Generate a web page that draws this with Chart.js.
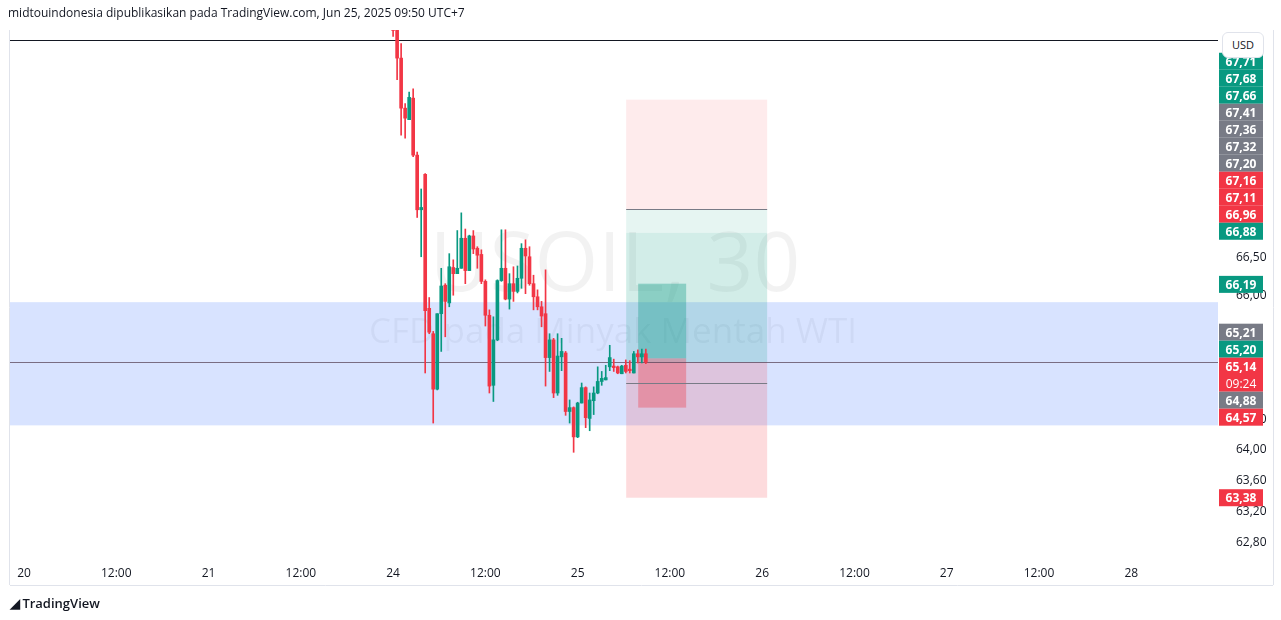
<!DOCTYPE html>
<html><head><meta charset="utf-8">
<script src="https://cdn.jsdelivr.net/npm/chart.js@4.4.1/dist/chart.umd.min.js"></script>
<style>
body{margin:0;width:1281px;height:620px;background:#fff;font-family:"Open Sans",Roboto,sans-serif;overflow:hidden;position:relative}
#hdr{position:absolute;left:8px;top:4px;font-size:12px;color:#131722}
#logo{position:absolute;left:10px;top:594px;font-size:13px;color:#131722;font-weight:600}
#wrap{position:absolute;left:0;top:0;width:1281px;height:620px}
#usd{position:absolute;left:1222px;top:32px;width:40px;height:24px;border:1px solid #e0e3eb;border-radius:6px;font-size:11px;color:#131722;text-align:center;line-height:24px;background:#fff;z-index:2}
</style></head><body>
<div id="wrap"><canvas id="c" width="1281" height="620"></canvas></div>
<div id="hdr">midtouindonesia dipublikasikan pada TradingView.com, Jun 25, 2025 09:50 UTC+7</div>
<div id="logo"><span style="font-weight:900;letter-spacing:-1px">&#9698;</span> TradingView</div>
<div id="usd">USD</div>
<script>
// 30-minute candles from Jun 24 (day index 2), 46 bars per day
const opens  = [69.58,69.50,69.09,68.44,68.29,68.57,67.83,67.12,67.58,65.84,65.51,64.79,65.77,66.14,65.91,66.37,66.29,66.36,66.75,66.33,66.78,66.62,66.54,66.19,65.75,64.84,65.43,66.20,66.36,65.96,66.16,66.06,66.23,66.62,66.51,66.16,65.99,65.86,65.77,65.20,65.43,64.74,65.21,65.26,64.50,64.55,64.17,64.61,64.81,64.41,64.64,64.74,64.89,64.91,65.08,65.09,65.08,64.99,65.10,65.03,65.00,65.25,65.21,65.25];
const highs  = [69.67,69.58,69.28,68.50,68.65,68.69,67.87,67.39,67.59,65.98,65.54,65.77,66.36,66.16,66.55,66.47,66.85,67.08,66.87,66.79,66.85,66.64,66.60,66.21,65.82,65.73,66.21,66.86,66.86,66.29,66.38,66.39,66.68,66.73,66.64,66.27,66.08,65.93,66.34,65.51,65.45,65.51,65.45,65.28,64.65,64.56,64.62,64.87,64.82,64.74,64.82,65.08,65.02,65.10,65.36,65.18,65.09,65.10,65.17,65.16,65.28,65.30,65.31,65.31];
const lows   = [69.37,68.81,68.09,68.05,68.29,67.81,67.02,66.51,65.00,65.51,64.35,64.78,65.28,65.47,65.86,66.01,66.29,66.36,66.16,66.33,66.55,66.36,66.16,65.61,64.74,64.63,65.42,66.19,65.95,65.83,65.93,66.04,66.10,66.03,66.14,65.82,65.82,65.60,64.83,65.02,64.68,64.71,65.03,64.45,64.35,63.97,64.16,64.61,64.29,64.25,64.46,64.73,64.84,64.91,65.03,65.02,64.99,64.99,65.00,65.00,65.00,65.13,65.13,65.12];
const closes = [69.45,69.09,68.44,68.31,68.58,67.83,67.12,67.15,65.81,65.53,64.79,65.77,66.13,65.93,66.38,66.29,66.36,66.75,66.33,66.78,66.61,66.53,66.19,65.75,64.83,65.43,66.20,66.36,65.96,66.16,66.06,66.23,66.62,66.52,66.16,65.99,65.86,65.74,65.20,65.43,64.74,65.22,65.28,64.50,64.55,64.17,64.61,64.81,64.42,64.65,64.74,64.89,64.93,64.94,65.20,65.07,65.00,65.09,65.02,65.01,65.25,65.21,65.25,65.14];
const dayLabels = ['20','12:00','21','12:00','24','12:00','25','12:00','26','12:00','27','12:00','28'];
const yTicks = [62.8,63.2,63.6,64.0,64.4,66.0,66.5];
const priceTags = [67.71,67.68,67.66,67.41,67.36,67.32,67.20,67.16,67.11,66.96,66.88,66.19,65.21,65.20,65.14,64.88,64.57,63.38];
const tagKinds  = ['g','g','g','n','n','n','n','r','r','r','g','g','n','g','r','n','r','r'];
const lastPrice = 65.14, prevLine = 69.32;
const zone = [64.32,65.92];
const tool = {x0:3.263,x1:4.027,top:68.55,stop:67.13,mid:66.82,entry:65.14,lower:64.87,bottom:63.38};
const mini = {x0:3.328,x1:3.588,top:66.16,mid:65.19,bottom:64.55};

const UP='#089981', DN='#f23645', NEU='#787b86';
const xs = opens.map((o,i)=>2+i/46);
const col = i => closes[i]>=opens[i]?UP:DN;
const bodies = opens.map((o,i)=>({x:xs[i],y:[o,Math.abs(closes[i]-o)<0.02?o+0.02:closes[i]]}));
const wicks = opens.map((o,i)=>({x:xs[i],y:[lows[i],highs[i]]}));
const fmt = v => v.toFixed(2).replace('.',',');

const bg = {id:'bg',beforeDatasetsDraw(ch){
  const {ctx,chartArea:a,scales:{x,y}}=ch;
  ctx.save();
  ctx.beginPath();ctx.rect(a.left,a.top,a.right-a.left,a.bottom-a.top);ctx.clip();
  ctx.fillStyle='rgba(0,0,0,0.05)';ctx.textAlign='center';ctx.textBaseline='middle';
  ctx.font='82px "Open Sans",sans-serif';ctx.fillText('USOIL, 30',615,268);
  ctx.font='35px "Open Sans",sans-serif';ctx.fillText('CFD pada Minyak Mentah WTI',613,333);
  const R=(x0,x1,y0,y1,c)=>{ctx.fillStyle=c;const px0=x.getPixelForValue(x0),px1=x.getPixelForValue(x1),py0=y.getPixelForValue(y0),py1=y.getPixelForValue(y1);ctx.fillRect(px0,Math.min(py0,py1),px1-px0,Math.abs(py1-py0));};
  R(x.min,x.max,zone[0],zone[1],'rgba(41,98,255,0.18)');
  R(tool.x0,tool.x1,tool.top,tool.stop,'rgba(242,54,69,0.10)');
  R(tool.x0,tool.x1,tool.stop,tool.mid,'rgba(8,153,129,0.10)');
  R(tool.x0,tool.x1,tool.mid,tool.entry,'rgba(8,153,129,0.18)');
  R(tool.x0,tool.x1,tool.entry,tool.bottom,'rgba(242,54,69,0.18)');
  R(mini.x0,mini.x1,mini.top,mini.mid,'rgba(8,153,129,0.35)');
  R(mini.x0,mini.x1,mini.mid,mini.bottom,'rgba(242,54,69,0.35)');
  const H=(x0,x1,v,c)=>{ctx.strokeStyle=c;ctx.lineWidth=1;ctx.beginPath();const py=Math.round(y.getPixelForValue(v))+0.5;ctx.moveTo(x.getPixelForValue(x0),py);ctx.lineTo(x.getPixelForValue(x1),py);ctx.stroke();};
  H(tool.x0,tool.x1,tool.stop,'#787b86');H(tool.x0,tool.x1,tool.lower,'#787b86');
  H(x.min,x.max,prevLine,'#131722');
  H(x.min,x.max,lastPrice,'rgba(90,70,90,0.75)');
  ctx.restore();
}, afterDraw(ch){
  const {ctx,chartArea:a,scales:{y}}=ch;
  ctx.save();
  ctx.strokeStyle='#e0e3eb';ctx.lineWidth=1;
  ctx.beginPath();ctx.moveTo(a.left,585.5);ctx.lineTo(1273,585.5);ctx.moveTo(1273.5,30);ctx.lineTo(1273.5,585);ctx.moveTo(a.left-0.5,30);ctx.lineTo(a.left-0.5,585);ctx.stroke();
  const H=17, D=3, pos=new Array(priceTags.length), hs=priceTags.map(v=>v===lastPrice?2*H:H);
  let prev=1e9;
  for(let i=priceTags.length-1;i>=0;i--){ if(priceTags[i]<66) continue; let py=y.getPixelForValue(priceTags[i])+D; py=Math.min(py,prev-H); pos[i]=py; prev=py; }
  const low=[];priceTags.forEach((v,i)=>{if(v<66){low.push(i);pos[i]=y.getPixelForValue(v);}});
  for(let it=0;it<300;it++){
    for(let k=0;k<low.length-1;k++){const i=low[k],j=low[k+1];const need=pos[i]+hs[i]-pos[j];if(need>0){pos[i]-=need/2;pos[j]+=need/2;}}
  }
  ctx.font='bold 12px "Open Sans",sans-serif';ctx.textAlign='center';ctx.textBaseline='middle';
  priceTags.forEach((v,i)=>{
    const c=tagKinds[i]==='g'?UP:tagKinds[i]==='r'?DN:NEU;
    ctx.fillStyle=c;ctx.fillRect(1219,pos[i]-H/2,44,hs[i]);
    ctx.fillStyle='#fff';ctx.fillText(fmt(v),1241,pos[i]+1);
    if(v===lastPrice){ctx.font='12px "Open Sans",sans-serif';ctx.fillText('09:24',1241,pos[i]+H+1);ctx.font='bold 12px "Open Sans",sans-serif';}
  });
  ctx.restore();
}};

new Chart(document.getElementById('c'),{
  type:'bar',
  data:{datasets:[
    {data:wicks,backgroundColor:wicks.map((d,i)=>col(i)),barThickness:1,grouped:false,order:2},
    {data:bodies,backgroundColor:bodies.map((d,i)=>col(i)),barThickness:3,grouped:false,order:1}
  ]},
  options:{
    responsive:false,animation:false,devicePixelRatio:1,
    layout:{padding:{top:30,left:10,right:0,bottom:35}},
    plugins:{legend:{display:false},tooltip:{enabled:false}},
    scales:{
      x:{type:'linear',offset:false,min:-0.076,max:6.47,grid:{display:false,offset:false},border:{display:false},
        afterBuildTicks:s=>{s.ticks=dayLabels.map((l,i)=>({value:i*0.5}));},
        afterFit:s=>{s.height=28;},
        ticks:{autoSkip:false,maxRotation:0,color:'#131722',font:{size:12,family:'"Open Sans",sans-serif'},padding:1,
          callback:(v,i)=>dayLabels[i]}},
      y:{type:'linear',position:'right',min:62.61,max:69.455,grid:{display:false},border:{display:false},
        afterBuildTicks:s=>{s.ticks=yTicks.map(v=>({value:v}));},
        afterFit:s=>{s.width=63;},
        ticks:{color:'#131722',font:{size:12,family:'"Open Sans",sans-serif'},padding:10,callback:v=>fmt(v)}}
    }
  },
  plugins:[bg]
});
</script>
</body></html>
